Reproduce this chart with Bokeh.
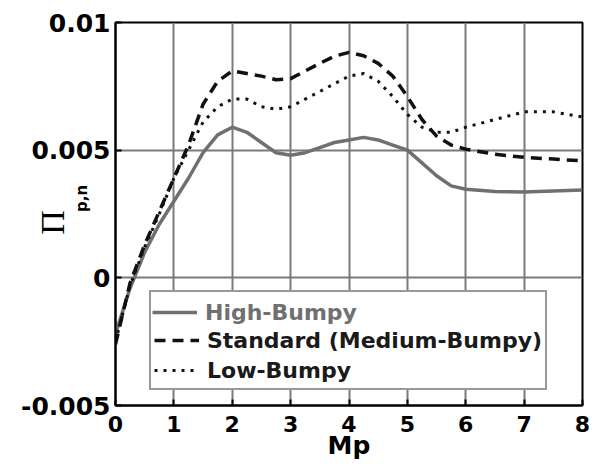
import math
from bokeh.plotting import figure
from bokeh.models import Legend, LegendItem, Title, FixedTicker, Range1d
from bokeh.embed import file_html
from bokeh.resources import INLINE

# ---- data ----
mp = [0, 0.25, 0.5, 0.75, 1.0, 1.25, 1.5, 1.75, 2.0, 2.25, 2.5, 2.75, 3.0, 3.25, 3.5,
      3.75, 4.0, 4.25, 4.5, 4.75, 5.0, 5.25, 5.5, 5.75, 6.0, 6.5, 7.0, 7.5, 8.0]
high_bumpy = [-0.0022, -0.0004, 0.0010, 0.0021, 0.0030, 0.0039, 0.0049, 0.0056, 0.0059,
              0.0057, 0.0053, 0.0049, 0.0048, 0.0049, 0.0051, 0.0053, 0.0054, 0.0055,
              0.0054, 0.0052, 0.0050, 0.0045, 0.0040, 0.0036, 0.00347, 0.00338, 0.00336,
              0.0034, 0.00344]
standard = [-0.0026, -0.0002, 0.0013, 0.0026, 0.0039, 0.0052, 0.0068, 0.0077, 0.0081,
            0.0080, 0.0079, 0.00776, 0.0078, 0.0081, 0.0084, 0.00868, 0.00883, 0.0087,
            0.0084, 0.0079, 0.0071, 0.0062, 0.00555, 0.0052, 0.00504, 0.00484, 0.00472,
            0.00465, 0.00458]
low_bumpy = [-0.0025, -0.0003, 0.0012, 0.0025, 0.0039, 0.0050, 0.0061, 0.0067, 0.0070,
             0.0070, 0.0067, 0.0066, 0.0067, 0.0070, 0.0073, 0.0076, 0.0079, 0.0080,
             0.0077, 0.0071, 0.0064, 0.0059, 0.0057, 0.0057, 0.0059, 0.0062, 0.0065,
             0.0065, 0.0063]
x_ticks = [0, 1, 2, 3, 4, 5, 6, 7, 8]
y_ticks = [-0.005, 0, 0.005, 0.01]
y_tick_labels = {-0.005: "-0.005", 0: "0", 0.005: "0.005", 0.01: "0.01"}
series_names = ["High-Bumpy", "Standard (Medium-Bumpy)", "Low-Bumpy"]
y_label_main = "Π"
y_label_sub = "p,n"

FONT = "DejaVu Sans"

p = figure(width=593, height=466, output_backend="svg", toolbar_location=None,
           x_range=Range1d(0, 8), y_range=Range1d(-0.005, 0.01),
           min_border_left=115, min_border_right=11, min_border_top=22, min_border_bottom=61)
p.background_fill_color = "white"
p.border_fill_color = "white"
p.outline_line_color = "black"
p.outline_line_width = 2

p.xaxis.ticker = FixedTicker(ticks=x_ticks)
p.yaxis.ticker = FixedTicker(ticks=y_ticks)
p.yaxis.major_label_overrides = y_tick_labels
for ax in (p.xaxis, p.yaxis):
    ax.major_label_text_font = FONT
    ax.major_label_text_font_style = "bold"
    ax.major_label_text_color = "black"
    ax.axis_line_color = "black"
    ax.axis_line_width = 2
    ax.major_tick_in = 6
    ax.major_tick_out = 0
    ax.major_tick_line_color = "black"
    ax.major_tick_line_width = 2
    ax.minor_tick_line_color = None
p.xaxis.major_label_text_font_size = "22px"
p.yaxis.major_label_text_font_size = "25px"
p.xaxis.major_label_standoff = 10
p.yaxis.major_label_standoff = 5
p.xaxis.axis_label = "Mp"
p.xaxis.axis_label_text_font = FONT
p.xaxis.axis_label_text_font_style = "bold"
p.xaxis.axis_label_text_font_size = "25px"
p.xaxis.axis_label_text_color = "black"
p.xaxis.axis_label_standoff = -4

# subscript as the axis label, shifted upward with leading no-break spaces
p.yaxis.axis_label = "\u00a0" * 6 + y_label_sub
p.yaxis.axis_label_text_font = FONT
p.yaxis.axis_label_text_font_style = "bold"
p.yaxis.axis_label_text_font_size = "15px"
p.yaxis.axis_label_text_color = "black"
p.yaxis.axis_label_standoff = -73

# main symbol, shifted slightly downward with trailing no-break spaces
p.add_layout(Title(text=y_label_main + "\u00a0" * 2, text_font="Liberation Serif",
                   text_font_size="34px", text_font_style="normal", text_color="black",
                   align="center", standoff=0), "left")

p.xgrid.ticker = FixedTicker(ticks=x_ticks)
p.ygrid.ticker = FixedTicker(ticks=y_ticks)
for g in (p.xgrid, p.ygrid):
    g.grid_line_color = "#7a7a7a"
    g.grid_line_width = 2

r_high = p.line(mp, high_bumpy, line_color="#707070", line_width=3.5)
r_std = p.line(mp, standard, line_color="#111111", line_width=3.5, line_dash="11 7")
r_low = p.line(mp, low_bumpy, line_color="#111111", line_width=3, line_dash="3 6")
r_blank = p.line([], [], line_alpha=0)

common = dict(label_text_font=FONT, label_text_font_style="bold", label_text_font_size="22px",
              glyph_width=45, glyph_height=30, label_height=30, label_standoff=8, spacing=0,
              margin=0)
leg = Legend(items=[LegendItem(label=" ", renderers=[r_blank]),
                    LegendItem(label=series_names[1], renderers=[r_std]),
                    LegendItem(label=series_names[2], renderers=[r_low])],
             location=(34, 15), padding=3, border_line_color="#333333", border_line_width=2,
             label_text_color="#1a1a1a", background_fill_color="white", background_fill_alpha=1,
             **common)
p.add_layout(leg)
leg_top = Legend(items=[LegendItem(label=series_names[0], renderers=[r_high])],
                 location=(37, 78), padding=0, border_line_color=None,
                 label_text_color="#707070", background_fill_alpha=0, **common)
p.add_layout(leg_top)

open("out.html", "w").write(file_html(p, INLINE))
